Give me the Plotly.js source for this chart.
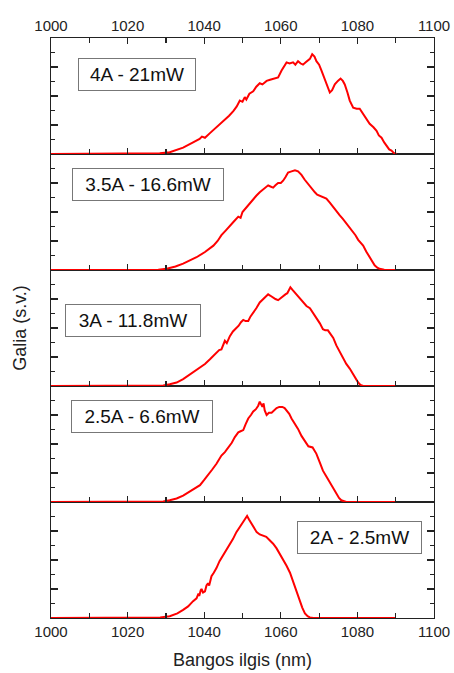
<!DOCTYPE html>
<html>
<head>
<meta charset="utf-8">
<script src="https://cdn.plot.ly/plotly-3.0.1.min.js"></script>
<style>html,body{margin:0;padding:0;background:#fff;}#chart{width:454px;height:673px;}</style>
</head>
<body>
<div id="chart"></div>
<script>
// Panel labels (top to bottom)
const labels = ["4A - 21mW", "3.5A - 16.6mW", "3A - 11.8mW", "2.5A - 6.6mW", "2A - 2.5mW"];

// 4A - 21mW
const wl_4A = [1000,1020,1026,1028.4,1031,1034.5,1037.1,1038.8,1039.4,1040.2,1041.5,1043.2,1044.5,1045.8,1046.5,1047.6,1048.5,1049.3,1050.0,1050.6,1051.0,1051.8,1052.8,1053.6,1054.5,1055.2,1056.3,1057.2,1058.0,1059.3,1060.2,1061.0,1061.5,1062.3,1063.2,1063.8,1064.5,1065.2,1065.8,1066.5,1067.1,1067.6,1068.2,1068.8,1069.3,1070.0,1070.6,1071.3,1071.9,1072.8,1073.4,1074.1,1074.9,1075.6,1076.2,1076.7,1077.4,1078.0,1078.9,1079.8,1080.6,1081.2,1081.9,1082.6,1083.2,1084.2,1085.0,1085.6,1086.3,1087.0,1087.6,1088.3,1088.9,1089.5,1090.2];
const int_4A = [0,0,0.003,0.006,0.015,0.055,0.10,0.13,0.15,0.14,0.18,0.23,0.27,0.31,0.33,0.37,0.41,0.46,0.45,0.49,0.47,0.52,0.54,0.58,0.61,0.60,0.63,0.64,0.65,0.66,0.72,0.77,0.79,0.78,0.79,0.77,0.80,0.78,0.77,0.79,0.81,0.82,0.86,0.84,0.80,0.77,0.72,0.66,0.60,0.53,0.55,0.60,0.63,0.65,0.63,0.60,0.53,0.46,0.40,0.39,0.39,0.36,0.33,0.29,0.26,0.23,0.20,0.16,0.14,0.10,0.07,0.04,0.03,0.01,0];

// 3.5A - 16.6mW
const wl_35A = [1000,1026,1028,1030.2,1032.5,1034.5,1036.3,1038.0,1040.2,1041.3,1042.4,1043.5,1044.5,1045.6,1046.7,1047.8,1048.9,1049.5,1050.0,1051.0,1052.0,1052.8,1053.6,1054.5,1055.5,1056.7,1057.3,1058.0,1058.6,1059.3,1060.0,1060.6,1061.2,1061.9,1062.8,1063.7,1064.5,1065.4,1066.2,1067.1,1068.0,1068.9,1069.5,1070.2,1071.0,1071.9,1072.8,1073.7,1074.5,1075.4,1076.2,1077.1,1078.0,1078.9,1079.5,1080.2,1080.8,1081.5,1082.3,1083.2,1083.9,1084.5,1085.2,1085.8,1087,1088.4,1090];
const int_35A = [0,0,0.003,0.01,0.03,0.055,0.08,0.11,0.155,0.18,0.21,0.25,0.30,0.34,0.385,0.42,0.46,0.45,0.50,0.54,0.58,0.615,0.64,0.67,0.70,0.73,0.72,0.71,0.73,0.75,0.75,0.77,0.80,0.84,0.85,0.86,0.85,0.82,0.78,0.74,0.70,0.67,0.65,0.64,0.63,0.615,0.58,0.54,0.51,0.47,0.44,0.40,0.37,0.33,0.30,0.26,0.24,0.21,0.16,0.11,0.07,0.04,0.02,0.01,0.003,0,0];

// 3A - 11.8mW
const wl_3A = [1000,1026,1029.3,1031,1032.8,1034.5,1036.3,1037.6,1038.9,1040.2,1041.5,1042.4,1043.2,1043.9,1044.5,1045.0,1045.4,1045.9,1046.7,1047.5,1048.4,1049.0,1049.6,1050.2,1050.8,1051.5,1052.1,1052.8,1053.6,1054.5,1055.5,1056.2,1056.7,1057.2,1058.0,1058.6,1059.3,1060.0,1060.6,1061.2,1061.7,1062.1,1062.5,1063.0,1063.5,1064.1,1065.0,1065.8,1066.7,1067.6,1068.4,1069.3,1070.2,1071.0,1071.6,1072.3,1073.0,1073.7,1074.5,1075.4,1076.2,1077.1,1078.0,1078.9,1079.6,1080.2,1080.8,1081.5,1090];
const int_3A = [0,0,0.005,0.015,0.03,0.06,0.10,0.13,0.16,0.19,0.23,0.26,0.29,0.31,0.315,0.36,0.39,0.37,0.43,0.47,0.50,0.52,0.55,0.57,0.56,0.56,0.60,0.63,0.67,0.72,0.75,0.77,0.79,0.78,0.76,0.75,0.74,0.76,0.77,0.79,0.80,0.83,0.85,0.83,0.81,0.79,0.75,0.72,0.69,0.67,0.63,0.59,0.54,0.49,0.48,0.48,0.45,0.415,0.35,0.29,0.24,0.19,0.15,0.10,0.06,0.03,0.01,0,0];

// 2.5A - 6.6mW
const wl_25A = [1000,1027,1029.3,1031,1032.8,1034.5,1036.3,1037.6,1038.9,1040,1041.0,1042.1,1043.2,1044.5,1045.4,1046.3,1047.2,1048.0,1048.9,1049.5,1050.2,1050.8,1051.5,1052.2,1052.8,1053.5,1054.1,1054.5,1054.9,1055.2,1055.5,1055.8,1056.3,1056.9,1057.6,1058.2,1058.9,1059.6,1060.4,1061.0,1061.5,1062.2,1062.8,1063.6,1064.5,1065.4,1066.3,1067.2,1068.3,1068.8,1069.3,1070.2,1071.0,1071.9,1072.8,1073.7,1074.5,1075.2,1075.8,1076.5,1077.1,1090];
const int_25A = [0,0,0.005,0.015,0.03,0.055,0.09,0.115,0.145,0.19,0.23,0.28,0.33,0.40,0.43,0.47,0.51,0.56,0.60,0.61,0.62,0.67,0.72,0.75,0.78,0.80,0.83,0.865,0.84,0.82,0.85,0.79,0.75,0.77,0.77,0.79,0.81,0.82,0.82,0.81,0.79,0.76,0.72,0.68,0.63,0.57,0.52,0.48,0.47,0.44,0.415,0.34,0.27,0.22,0.17,0.11,0.07,0.035,0.015,0.005,0,0];

// 2A - 2.5mW
const wl_2A = [1000,1026,1028.5,1031.0,1033,1034.5,1035.8,1037.1,1038.0,1038.5,1038.7,1039.1,1039.3,1039.7,1040.2,1040.6,1041.0,1041.3,1041.9,1042.5,1043.2,1044.0,1044.9,1045.8,1046.7,1047.5,1048.4,1049.3,1050.2,1050.8,1051.2,1051.7,1052.4,1053.0,1053.7,1054.5,1055.4,1056.2,1057.1,1058.0,1058.9,1059.8,1060.6,1061.5,1062.4,1063.0,1063.7,1064.3,1064.9,1065.6,1066.3,1067.0,1067.6,1068.5,1090];
const int_2A = [0,0,0.005,0.015,0.04,0.07,0.10,0.145,0.17,0.21,0.19,0.24,0.25,0.22,0.23,0.28,0.30,0.28,0.36,0.39,0.43,0.49,0.54,0.59,0.63,0.68,0.74,0.78,0.83,0.86,0.88,0.85,0.81,0.77,0.74,0.72,0.71,0.70,0.67,0.64,0.60,0.55,0.50,0.45,0.39,0.33,0.26,0.20,0.145,0.09,0.04,0.015,0.005,0,0];

const allX = [wl_4A, wl_35A, wl_3A, wl_25A, wl_2A];
const allY = [int_4A, int_35A, int_3A, int_25A, int_2A];
// annotation anchor (data coords in each panel)
const labelX = [1022.4, 1025.3, 1021.4, 1023.7, 1080.5];
const labelY = [0.688, 0.741, 0.562, 0.737, 0.698];
const labelW = [110, 144, 128, 134, 117];

const font = "Arial, 'Liberation Sans', sans-serif";
const axisNames = ["5", "4", "3", "2", ""]; // top to bottom
const traces = [];
const layout = {
  width: 454, height: 673,
  margin: {l: 51, r: 20, t: 38, b: 55},
  paper_bgcolor: "#fff", plot_bgcolor: "#fff",
  showlegend: false,
  font: {family: font, color: "#222"},
  annotations: []
};
for (let i = 0; i < 5; i++) {
  const n = axisNames[i];
  const xa = "x" + n, ya = "y" + n;
  traces.push({x: allX[i], y: allY[i], type: "scatter", mode: "lines",
    line: {color: "#ff0000", width: 2}, xaxis: xa, yaxis: ya, hoverinfo: "skip"});
  const d0 = (4 - i) / 5, d1 = (5 - i) / 5;
  const isTop = i === 0, isBottom = i === 4;
  layout["xaxis" + n] = {
    range: [1000, 1100], anchor: ya, domain: [0, 1],
    side: isTop ? "top" : "bottom",
    showline: true, linecolor: "#222", linewidth: 1.3,
    mirror: isTop ? "ticks" : true,
    ticks: "inside", ticklen: 6, tickwidth: 1.2, tickcolor: "#222",
    dtick: 20, tick0: 1000,
    minor: {dtick: 10, ticks: "inside", ticklen: 5, tickwidth: 1.2, tickcolor: "#222"},
    showgrid: false, zeroline: false,
    showticklabels: isTop || isBottom,
    tickfont: {size: 15, family: font, color: "#222"},
    fixedrange: true
  };
  if (isBottom) {
    layout["xaxis" + n].title = {text: "Bangos ilgis (nm)", font: {size: 18, family: font, color: "#222"}, standoff: 14};
  }
  layout["yaxis" + n] = {
    range: [0, 1], anchor: xa, domain: [d0, d1],
    showline: true, linecolor: "#222", linewidth: 1.3, mirror: "ticks",
    ticks: "inside", ticklen: 7, tickwidth: 1.2, tickcolor: "#222",
    dtick: 0.25, tick0: 0,
    minor: {dtick: 0.125, ticks: "inside", ticklen: 4, tickwidth: 1.2, tickcolor: "#222"},
    showgrid: false, zeroline: false, showticklabels: false, fixedrange: true
  };
  if (i === 2) {
    layout["yaxis" + n].title = {text: "Galia (s.v.)", font: {size: 18, family: font, color: "#222"}, standoff: 18};
  }
  layout.annotations.push({
    text: labels[i], xref: xa, yref: ya, x: labelX[i], y: labelY[i],
    showarrow: false, font: {size: 19, family: font, color: "#111"},
    bordercolor: "#777", borderwidth: 1, borderpad: 3, bgcolor: "#fff",
    width: labelW[i], height: 25, align: "center", xanchor: "center", yanchor: "middle"
  });
}
Plotly.newPlot("chart", traces, layout, {staticPlot: true, displayModeBar: false});
</script>
</body>
</html>
